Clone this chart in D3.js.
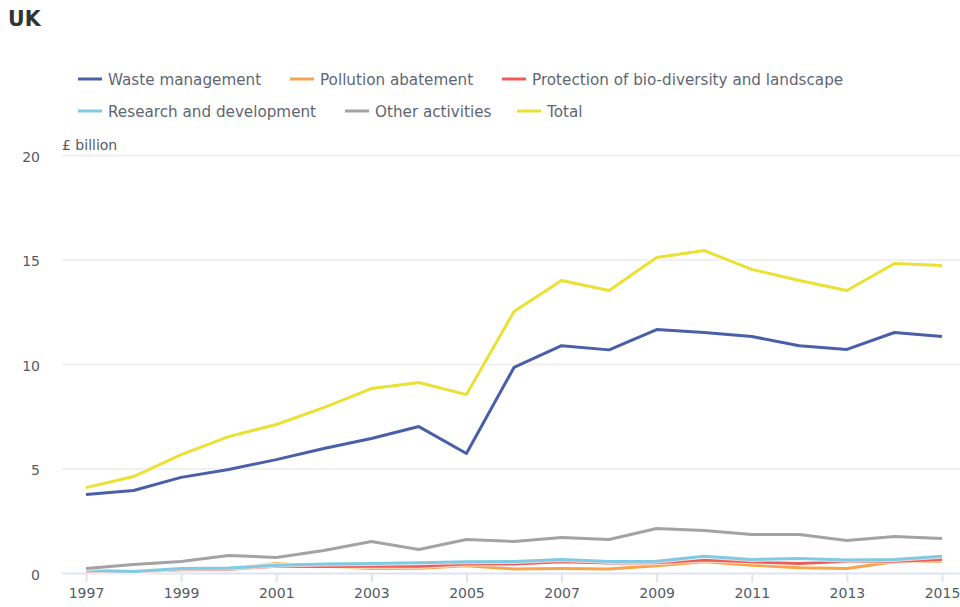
<!DOCTYPE html>
<html><head><meta charset="utf-8">
<script src="https://cdn.jsdelivr.net/npm/d3@7"></script>
<style>
body{margin:0;background:#fff;}
svg{display:block;font-family:"DejaVu Sans",Verdana,sans-serif;}
</style></head>
<body><svg id="c" width="960" height="607"></svg>
<script>
const years = [1997,1998,1999,2000,2001,2002,2003,2004,2005,2006,2007,2008,2009,2010,2011,2012,2013,2014,2015];
const wasteManagement = [3.78,3.97,4.6,4.98,5.45,5.98,6.46,7.03,5.74,9.86,10.9,10.7,11.67,11.53,11.34,10.9,10.72,11.53,11.34];
const pollutionAbatement = [0.12,0.1,0.2,0.22,0.48,0.35,0.24,0.25,0.37,0.22,0.24,0.22,0.37,0.56,0.4,0.27,0.24,0.56,0.59];
const protectionBio = [0.1,0.08,0.18,0.2,0.35,0.33,0.35,0.35,0.46,0.45,0.56,0.5,0.51,0.64,0.56,0.48,0.59,0.59,0.67];
const researchDev = [0.15,0.1,0.24,0.26,0.4,0.45,0.48,0.52,0.56,0.58,0.67,0.57,0.59,0.83,0.67,0.72,0.64,0.67,0.83];
const otherActivities = [0.24,0.43,0.57,0.86,0.77,1.1,1.53,1.15,1.63,1.53,1.72,1.63,2.15,2.06,1.87,1.87,1.58,1.77,1.67];
const total = [4.11,4.64,5.69,6.55,7.13,7.94,8.85,9.14,8.56,12.54,14.02,13.54,15.12,15.45,14.55,14.02,13.54,14.83,14.74];
const seriesNames = ["Waste management","Pollution abatement","Protection of bio-diversity and landscape","Research and development","Other activities","Total"];
const seriesColors = ["#4a5fa8","#f7a54a","#f05a5a","#7fcbe3","#a3a3a3","#ebe134"];
const yTicks = [0,5,10,15,20];
const xTicks = [1997,1999,2001,2003,2005,2007,2009,2011,2013,2015];

const series = [wasteManagement,pollutionAbatement,protectionBio,researchDev,otherActivities,total];
const svg = d3.select("#c");
const x = d3.scaleLinear().domain([1997,2015]).range([86,942]);
const y = d3.scaleLinear().domain([0,20]).range([573.5,155.5]);
const gridLeft = 62, gridRight = 960;

// title
svg.append("text").attr("x",8).attr("y",26).text("UK")
  .attr("font-size",20.5).attr("font-weight","bold").attr("fill","#333");

// gridlines
svg.append("g").selectAll("line").data(yTicks.filter(d=>d>0)).join("line")
  .attr("x1",gridLeft).attr("x2",gridRight)
  .attr("y1",d=>y(d)).attr("y2",d=>y(d))
  .attr("stroke","#f0f0f0").attr("stroke-width",2);

// y axis labels
const yAxis = d3.axisLeft(y).tickValues(yTicks).tickSize(0).tickPadding(0);
const yg = svg.append("g").attr("transform","translate(40,1.5)").call(yAxis);
yg.select(".domain").remove();
yg.selectAll("text").attr("font-size",14).attr("fill","#555b66")
  .attr("font-family","'DejaVu Sans',Verdana,sans-serif");

svg.append("text").attr("x",62).attr("y",150).text("£ billion")
  .attr("font-size",14).attr("fill","#555b66");

// x axis
const xAxis = d3.axisBottom(x).tickValues(xTicks).tickFormat(d3.format("d")).tickSize(9).tickPadding(6);
const xg = svg.append("g").attr("transform",`translate(0,${y(0)})`).call(xAxis);
xg.select(".domain").remove();
xg.selectAll(".tick line").attr("stroke","#dde3ef").attr("stroke-width",2);
xg.selectAll("text").attr("font-size",14).attr("fill","#555b66")
  .attr("font-family","'DejaVu Sans',Verdana,sans-serif");
svg.append("line").attr("x1",gridLeft).attr("x2",gridRight)
  .attr("y1",y(0)).attr("y2",y(0)).attr("stroke","#dde3ef").attr("stroke-width",2);

// lines
const line = d3.line().x((d,i)=>x(years[i])).y(d=>y(d));
series.forEach((s,k)=>{
  svg.append("path").datum(s).attr("d",line).attr("fill","none")
    .attr("stroke","#fff").attr("stroke-width",5).attr("stroke-opacity",0.7).attr("stroke-linejoin","round");
  svg.append("path").datum(s).attr("d",line).attr("fill","none")
    .attr("stroke",seriesColors[k]).attr("stroke-width",3).attr("stroke-linejoin","round");
});

// legend
const legendPos = [[78,79],[290,79],[502,79],[78,111],[345,111],[517,111]];
seriesNames.forEach((n,k)=>{
  const [lx,ly] = legendPos[k];
  svg.append("line").attr("x1",lx).attr("x2",lx+24).attr("y1",ly).attr("y2",ly)
    .attr("stroke",seriesColors[k]).attr("stroke-width",3);
  svg.append("text").attr("x",lx+30).attr("y",ly+6).text(n)
    .attr("font-size",15.2).attr("fill","#5f6673");
});
</script></body></html>
